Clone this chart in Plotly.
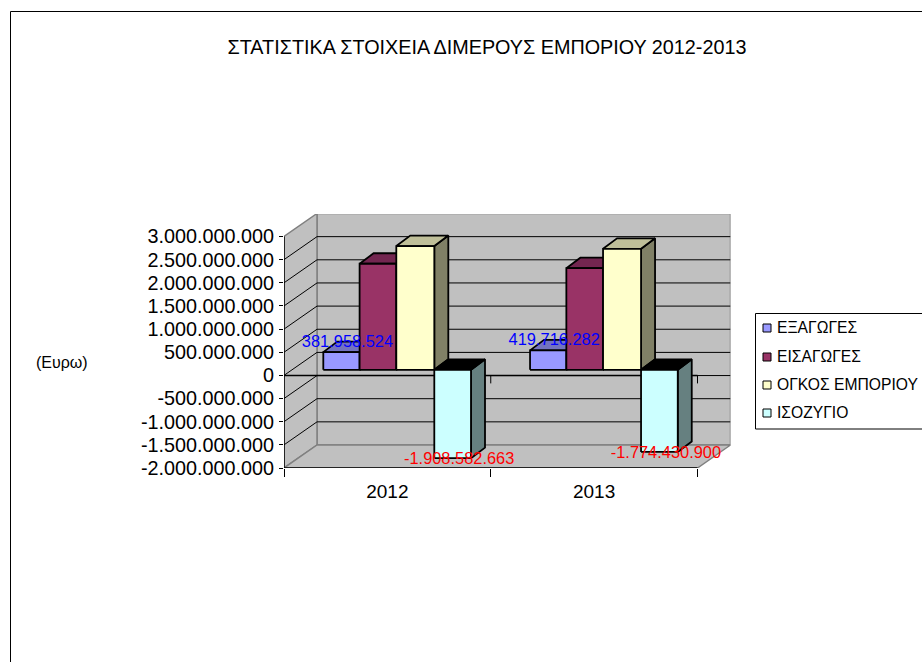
import plotly.graph_objects as go

W, H = 922, 662
LAYOUT_H = 673  # page is rendered slightly compressed vertically; paper reaches the full window with this height
FONT = "Liberation Sans"

title = "ΣΤΑΤΙΣΤΙΚΑ ΣΤΟΙΧΕΙΑ ΔΙΜΕΡΟΥΣ ΕΜΠΟΡΙΟΥ 2012-2013"
unit_label = "(Ευρω)"
years = ["2012", "2013"]
series_names = ["ΕΞΑΓΩΓΕΣ", "ΕΙΣΑΓΩΓΕΣ", "ΟΓΚΟΣ ΕΜΠΟΡΙΟΥ", "ΙΣΟΖΥΓΙΟ"]
exports = [381958524, 419716282]
imports = [2290541187, 2194147182]
volume = [2672499711, 2613863464]
balance = [-1908582663, -1774430900]
export_labels = ["381.958.524", "419.716.282"]
balance_labels = ["-1.908.582.663", "-1.774.430.900"]
y_ticks = [-2000000000, -1500000000, -1000000000, -500000000, 0, 500000000,
           1000000000, 1500000000, 2000000000, 2500000000, 3000000000]
y_tick_text = ["-2.000.000.000", "-1.500.000.000", "-1.000.000.000", "-500.000.000", "0",
               "500.000.000", "1.000.000.000", "1.500.000.000", "2.000.000.000",
               "2.500.000.000", "3.000.000.000"]

face = ["#9999FF", "#993366", "#FFFFCC", "#CCFFFF"]
top_face = ["#7373BF", "#732650", "#BFBF99", "#000000"]
side_face = ["#4D4D80", "#4D1A33", "#808066", "#668080"]

# pixel calibration of the projected axes
X0, CAT = 284.0, 206.75
Y0, PX_PER_E9 = 375.4, 46.3
WALL_DX, WALL_DY = 33.0, 23.0
RIGHT, TOP, BOTTOM = X0 + 2 * CAT + WALL_DX, 237.0 - WALL_DY, 468.0


def ux(px):
    return px / CAT


def uy(px):
    return px / PX_PER_E9 * 1e9


def poly(xs, ys, fill, line="#000000", lw=1.8):
    return go.Scatter(x=xs, y=ys, mode="lines", fill="toself", fillcolor=fill,
                      line=dict(color=line, width=lw), hoverinfo="skip", showlegend=False)


fig = go.Figure()
vmin, vmax = y_ticks[0], y_ticks[-1]
dx, dy = ux(WALL_DX), uy(WALL_DY)
WALL, EDGE = "#C0C0C0", "#808080"
# back wall, side wall, floor
fig.add_trace(poly([dx, 2 + dx, 2 + dx, dx, dx], [vmin + dy, vmin + dy, vmax + dy, vmax + dy, vmin + dy], WALL, EDGE, 1.5))
fig.add_trace(poly([0, dx, dx, 0, 0], [vmin, vmin + dy, vmax + dy, vmax, vmin], WALL, EDGE, 1.5))
fig.add_trace(poly([0, dx, 2 + dx, 2, 0], [vmin, vmin + dy, vmin + dy, vmin, vmin], WALL, EDGE, 1.5))
# gridlines
gx, gy = [], []
for t in y_ticks[1:-1]:
    gx += [0, dx, 2 + dx, None]
    gy += [t, t + dy, t + dy, None]
fig.add_trace(go.Scatter(x=gx, y=gy, mode="lines", line=dict(color="#000000", width=1),
                         hoverinfo="skip", showlegend=False))
# axes lines: left, bottom, zero plane
fig.add_trace(go.Scatter(x=[0, 0, None, 0, 2, None, 0, 2], y=[vmax, vmin, None, vmin, vmin, None, 0, 0],
                         mode="lines", line=dict(color="#000000", width=1.5), hoverinfo="skip", showlegend=False))
tx, ty = [], []
for c in (1, 2):
    tx += [c, c, None]
    ty += [0, -uy(8), None]
fig.add_trace(go.Scatter(x=tx, y=ty, mode="lines", line=dict(color="#000000", width=1),
                         hoverinfo="skip", showlegend=False))

# bars
GAP_PX = 39.3
BAR_EDGES_PX = [0.0, 36.3, 73.0, 111.0, 147.7]
BAR_DX, BAR_DY = 14.0, 10.5
SHIFT_DY = 5.6
series = [exports, imports, volume, balance]
base = uy(SHIFT_DY)
d_x, d_y = ux(BAR_DX), uy(BAR_DY)
for i in range(len(years)):
    for j, vals in enumerate(series):
        x0 = i + ux(GAP_PX + BAR_EDGES_PX[j])
        x1 = i + ux(GAP_PX + BAR_EDGES_PX[j + 1])
        lo, hi = base + min(vals[i], 0), base + max(vals[i], 0)
        fig.add_trace(poly([x1, x1 + d_x, x1 + d_x, x1, x1], [lo, lo + d_y, hi + d_y, hi, lo], side_face[j]))
        fig.add_trace(poly([x0, x0 + d_x, x1 + d_x, x1, x0], [hi, hi + d_y, hi + d_y, hi, hi], top_face[j]))
        fig.add_trace(poly([x0, x1, x1, x0, x0], [lo, lo, hi, hi, lo], face[j]))

# data labels
for i in range(len(years)):
    xc = i + ux(GAP_PX + (BAR_EDGES_PX[0] + BAR_EDGES_PX[1]) / 2 + 6.0)
    fig.add_trace(go.Scatter(x=[xc], y=[base + exports[i] + uy(9.5)], mode="text", text=[export_labels[i]],
                             textposition="middle center", textfont=dict(family=FONT, size=16.4, color="#0000FF"),
                             hoverinfo="skip", showlegend=False))
    xc = i + ux(GAP_PX + (BAR_EDGES_PX[3] + BAR_EDGES_PX[4]) / 2 + 6.5)
    fig.add_trace(go.Scatter(x=[xc], y=[base + balance[i] - uy(1.5)], mode="text", text=[balance_labels[i]],
                             textposition="middle center", textfont=dict(family=FONT, size=16.4, color="#FF0000"),
                             hoverinfo="skip", showlegend=False))


def px_x(p):
    return p / W


def px_y(p):
    return 1 - p / H


shapes = [
    dict(type="line", xref="paper", yref="paper", x0=px_x(10.5), x1=px_x(W), y0=px_y(11.5), y1=px_y(11.5), line=dict(color="#000000", width=1)),
    dict(type="line", xref="paper", yref="paper", x0=px_x(10.5), x1=px_x(10.5), y0=px_y(11.5), y1=0, line=dict(color="#000000", width=1)),
    dict(type="rect", xref="paper", yref="paper", x0=px_x(755.5), x1=px_x(W + 5), y0=px_y(313.5), y1=px_y(429), line=dict(color="#000000", width=1), fillcolor="#FFFFFF"),
]
annotations = [
    dict(text=unit_label, xref="paper", yref="paper", x=px_x(62), y=px_y(362.5), showarrow=False,
         xanchor="center", yanchor="middle", font=dict(family=FONT, size=16, color="#000000")),
]
leg_y = [327, 356, 384, 412]
for name, col, py in zip(series_names, face, leg_y):
    shapes.append(dict(type="rect", xref="paper", yref="paper", x0=px_x(763), x1=px_x(771), y0=px_y(py + 1 - 4), y1=px_y(py + 1 + 4),
                       line=dict(color="#000000", width=1), fillcolor=col))
    annotations.append(dict(text=name, xref="paper", yref="paper", x=px_x(775), y=px_y(py), showarrow=False,
                            xanchor="left", yanchor="middle", font=dict(family=FONT, size=15.67, color="#000000")))

fig.update_layout(
    width=W, height=LAYOUT_H, margin=dict(l=0, r=0, t=0, b=0, pad=0), autosize=False,
    paper_bgcolor="#FFFFFF", plot_bgcolor="rgba(0,0,0,0)", showlegend=False,
    title=dict(text=title, x=487 / W, y=1 - 46.5 / H, xanchor="center", yanchor="middle",
               font=dict(family=FONT, size=19.8, color="#000000")),
    shapes=shapes, annotations=annotations,
    xaxis=dict(domain=[X0 / W, RIGHT / W], range=[0, (RIGHT - X0) / CAT], tickvals=[0.5, 1.5], ticktext=years,
               ticks="", showgrid=False, zeroline=False, showline=False, ticklabelstandoff=10,
               tickfont=dict(family=FONT, size=19, color="#000000"),
               minor=dict(tickvals=[0, 1, 2], ticks="outside", ticklen=8, tickcolor="#000000", tickwidth=1)),
    yaxis=dict(domain=[1 - BOTTOM / H, 1 - TOP / H], range=[vmin, (Y0 - TOP) / PX_PER_E9 * 1e9],
               tickvals=y_ticks, ticktext=y_tick_text, ticks="outside", ticklen=4, tickcolor="#000000",
               showgrid=False, zeroline=False, showline=False, ticklabelstandoff=1,
               tickfont=dict(family=FONT, size=19.8, color="#000000")),
)
fig.write_html("out.html", post_script="document.body.style.margin='0';document.documentElement.style.overflow='hidden';",
               config={"displayModeBar": False, "responsive": False},
               default_width=f"{W}px", default_height=f"{LAYOUT_H}px")
